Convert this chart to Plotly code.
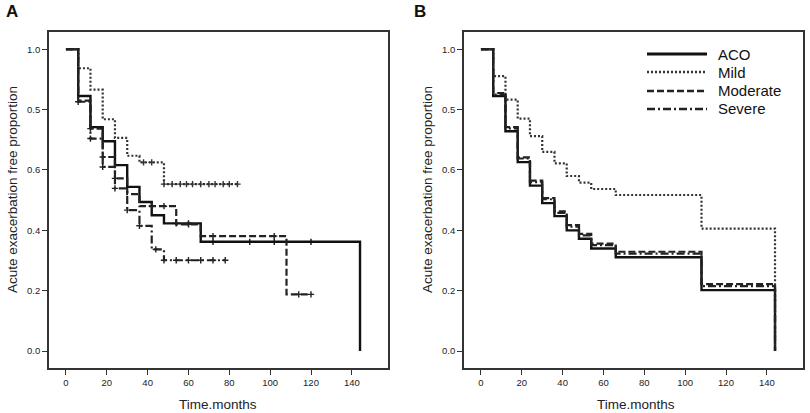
import plotly.graph_objects as go

# ---------------- data: panel A (Kaplan-Meier) ----------------
aco_a_t = [0, 6, 12, 18, 24, 30, 36, 42, 48, 66, 144]
aco_a_s = [1.0, 0.845, 0.742, 0.695, 0.616, 0.544, 0.494, 0.45, 0.423, 0.362, 0.0]
aco_a_ct = [54, 60, 72, 90, 102, 120]
aco_a_cs = [0.423, 0.423, 0.362, 0.362, 0.362, 0.362]

mild_a_t = [0, 6, 12, 18, 24, 30, 36, 48, 84]
mild_a_s = [1.0, 0.937, 0.866, 0.768, 0.706, 0.647, 0.625, 0.553, 0.553]
mild_a_ct = [38, 42, 48, 52, 56, 59, 62, 66, 70, 73, 77, 80, 84]
mild_a_cs = [0.625, 0.625, 0.553, 0.553, 0.553, 0.553, 0.553, 0.553, 0.553, 0.553, 0.553, 0.553, 0.553]

mod_a_t = [0, 6, 12, 18, 24, 30, 36, 54, 66, 108, 120]
mod_a_s = [1.0, 0.83, 0.737, 0.643, 0.572, 0.52, 0.48, 0.42, 0.381, 0.188, 0.188]
mod_a_ct = [12, 18, 24, 42, 48, 60, 72, 102, 114, 120]
mod_a_cs = [0.737, 0.643, 0.572, 0.48, 0.48, 0.42, 0.381, 0.381, 0.188, 0.188]

sev_a_t = [0, 6, 12, 18, 24, 30, 36, 42, 48, 78]
sev_a_s = [1.0, 0.826, 0.704, 0.61, 0.539, 0.467, 0.415, 0.337, 0.301, 0.301]
sev_a_ct = [6, 12, 18, 24, 30, 36, 44, 48, 54, 60, 66, 72, 78]
sev_a_cs = [0.826, 0.704, 0.61, 0.539, 0.467, 0.415, 0.337, 0.301, 0.301, 0.301, 0.301, 0.301, 0.301]

# ---------------- data: panel B (adjusted curves) ----------------
b_t = [0, 6, 12, 18, 24, 30, 36, 42, 48, 54, 66, 108, 144]
aco_b_s = [1.0, 0.845, 0.728, 0.626, 0.548, 0.49, 0.447, 0.40, 0.372, 0.34, 0.311, 0.202, 0.0]
mild_b_s = [1.0, 0.911, 0.833, 0.77, 0.712, 0.66, 0.622, 0.58, 0.558, 0.537, 0.517, 0.406, 0.0]
mod_b_s = [1.0, 0.855, 0.742, 0.642, 0.565, 0.507, 0.463, 0.417, 0.388, 0.356, 0.329, 0.222, 0.0]
sev_b_s = [1.0, 0.85, 0.738, 0.638, 0.56, 0.503, 0.458, 0.412, 0.383, 0.351, 0.323, 0.215, 0.0]

group_names = ["ACO", "Mild", "Moderate", "Severe"]
x_ticks = [0, 20, 40, 60, 80, 100, 120, 140]
y_tickvals = [0.0, 0.2, 0.4, 0.6, 0.8, 1.0]
y_ticktext = ["0.0", "0.2", "0.4", "0.6", "0.5", "1.0"]
x_title = "Time.months"
y_title = "Acute exacerbation free proportion"

# ---------------- styles ----------------
dashes = ["solid", "2px,2px", "7px,3px", "8px,3px,2px,3px"]
widths = [2.4, 2.2, 2.2, 2.2]
colors = ["#111111", "#333333", "#222222", "#222222"]

fig = go.Figure()

a_lines = [(aco_a_t, aco_a_s), (mild_a_t, mild_a_s), (mod_a_t, mod_a_s), (sev_a_t, sev_a_s)]
a_cens = [(aco_a_ct, aco_a_cs), (mild_a_ct, mild_a_cs), (mod_a_ct, mod_a_cs), (sev_a_ct, sev_a_cs)]
for i, ((t, s), (ct, cs)) in enumerate(zip(a_lines, a_cens)):
    fig.add_trace(go.Scatter(x=t, y=s, mode="lines", line_shape="hv",
                             line=dict(color=colors[i], width=widths[i], dash=dashes[i]),
                             xaxis="x", yaxis="y", showlegend=False, name=group_names[i]))
    fig.add_trace(go.Scatter(x=ct, y=cs, mode="markers",
                             marker=dict(symbol="cross-thin-open", size=4.5, color=colors[i],
                                         line=dict(color=colors[i], width=1.4)),
                             xaxis="x", yaxis="y", showlegend=False, name=group_names[i]))

b_series = [aco_b_s, mild_b_s, mod_b_s, sev_b_s]
for i, s in enumerate(b_series):
    fig.add_trace(go.Scatter(x=b_t, y=s, mode="lines", line_shape="hv",
                             line=dict(color=colors[i], width=widths[i], dash=dashes[i]),
                             xaxis="x2", yaxis="y2", showlegend=False, name=group_names[i]))

W, H = 810, 413
ydom = [1 - 368 / H, 1 - 32 / H]
xr = [-8.3, 157.7]
yr = [-0.056, 1.057]

axis_common = dict(showgrid=False, zeroline=False, showline=True, mirror=True,
                   linecolor="#333333", linewidth=1.6, ticks="outside", ticklen=5,
                   tickwidth=1.2, tickcolor="#333333", automargin=False,
                   tickfont=dict(family="Liberation Sans, Arial", size=9.5, color="#222222"))

fig.update_layout(
    width=W, height=H,
    margin=dict(l=0, r=0, t=0, b=0),
    paper_bgcolor="white", plot_bgcolor="white",
    xaxis=dict(domain=[49 / W, 388 / W], range=xr, tickvals=x_ticks, anchor="y", **axis_common),
    yaxis=dict(domain=ydom, range=yr, tickvals=y_tickvals, ticktext=y_ticktext, anchor="x", **axis_common),
    xaxis2=dict(domain=[464 / W, 803 / W], range=xr, tickvals=x_ticks, anchor="y2", **axis_common),
    yaxis2=dict(domain=ydom, range=yr, tickvals=y_tickvals, ticktext=y_ticktext, anchor="x2", **axis_common),
)

title_font = dict(family="Liberation Sans, Arial", size=13.5, color="#222222")
ann = []
ann.append(dict(text="<b>A</b>", x=4 / W, y=1 - 12 / H, xref="paper", yref="paper",
                xanchor="left", yanchor="middle", showarrow=False,
                font=dict(family="Liberation Sans, Arial", size=17, color="#111111")))
ann.append(dict(text="<b>B</b>", x=412 / W, y=1 - 12 / H, xref="paper", yref="paper",
                xanchor="left", yanchor="middle", showarrow=False,
                font=dict(family="Liberation Sans, Arial", size=17, color="#111111")))
for cx, ycx in [(218, 12), (636, 427)]:
    ann.append(dict(text=x_title, x=cx / W, y=1 - 404 / H, xref="paper", yref="paper",
                    xanchor="center", yanchor="middle", showarrow=False, font=title_font))
    ann.append(dict(text=y_title, x=ycx / W, y=1 - 190 / H, xref="paper", yref="paper",
                    xanchor="center", yanchor="middle", showarrow=False, textangle=-90,
                    font=title_font))

shapes = []
leg_rows = [54, 72, 91, 109]
for i, name in enumerate(group_names):
    yy = 1 - leg_rows[i] / H
    shapes.append(dict(type="line", xref="paper", yref="paper",
                       x0=647 / W, x1=707 / W, y0=yy, y1=yy,
                       line=dict(color=colors[i], width=widths[i] + 0.4, dash=dashes[i])))
    ann.append(dict(text=name, x=716 / W, y=yy, xref="paper", yref="paper",
                    xanchor="left", yanchor="middle", showarrow=False,
                    font=dict(family="Liberation Sans, Arial", size=15, color="#111111")))

fig.update_layout(annotations=ann, shapes=shapes)
fig.write_html("out.html", config={"displayModeBar": False},
               post_script="document.body.style.margin='0';document.body.style.padding='0';")
